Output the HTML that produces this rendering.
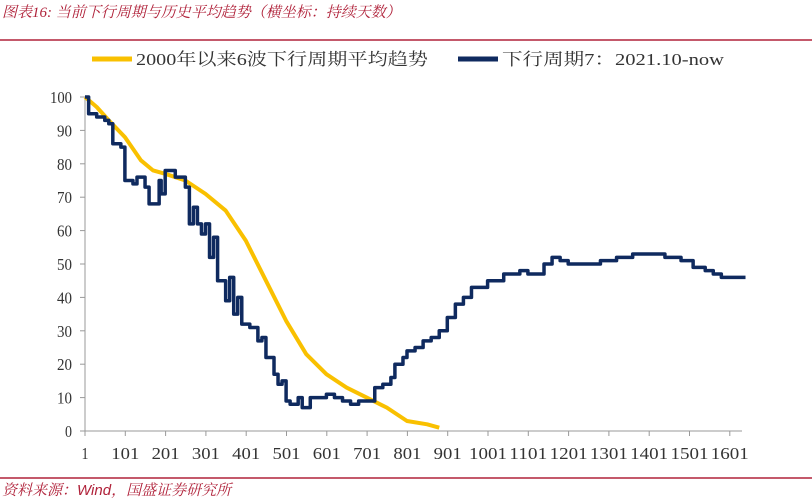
<!DOCTYPE html>
<html><head><meta charset="utf-8"><style>
body{margin:0;background:#fff;width:812px;height:500px;overflow:hidden}
svg{display:block}
.t{font-family:"Liberation Serif","Noto Serif CJK SC",serif;font-size:17px;fill:#333}
</style></head><body>
<svg id="s" width="812" height="500" xmlns="http://www.w3.org/2000/svg">
<text x="2" y="17" font-family="Liberation Serif,'Noto Serif CJK SC',serif" font-size="15" font-style="italic" fill="#b0223a">图表16:  当前下行周期与历史平均趋势（横坐标：持续天数）</text>
<line x1="0" y1="40" x2="812" y2="40" stroke="#b0223a" stroke-width="1.5"/>
<line x1="92" y1="59" x2="132" y2="59" stroke="#f9c000" stroke-width="5"/>
<text class="t" x="136" y="65" font-size="17" textLength="292" lengthAdjust="spacingAndGlyphs">2000年以来6波下行周期平均趋势</text>
<line x1="458" y1="59" x2="498" y2="59" stroke="#0f2a5f" stroke-width="5"/>
<text class="t" x="502" y="65" font-size="17" textLength="222" lengthAdjust="spacingAndGlyphs">下行周期7：2021.10-now</text>
<line x1="85" y1="97" x2="85" y2="431" stroke="#999"/>
<line x1="85" y1="431" x2="742" y2="431" stroke="#999"/>
<g id="ax"></g>
<polyline id="y" fill="none" stroke="#f9c000" stroke-width="4" stroke-linejoin="round"/>
<polyline id="b" fill="none" stroke="#0f2a5f" stroke-width="3.5" stroke-linejoin="round"/>
<line x1="0" y1="478" x2="812" y2="478" stroke="#b0223a" stroke-width="1.5"/>
<text x="2" y="495" font-family="Liberation Serif,'Noto Serif CJK SC',serif" font-size="15" font-style="italic" fill="#b0223a">资料来源：<tspan font-family="Liberation Sans,sans-serif">Wind</tspan>，国盛证券研究所</text>
</svg>
<script>
var X=d=>85+(d-1)*0.403, Y=v=>431-v*3.34;
var ax=document.getElementById('ax'),h='';
for(var i=0;i<=10;i++){var y=Y(i*10);h+='<line x1="80" y1="'+y+'" x2="85" y2="'+y+'" stroke="#999"/><text class="t" x="72" y="'+(y+6)+'" text-anchor="end" textLength="'+(i==10?22:(i==0?7:15))+'" lengthAdjust="spacingAndGlyphs">'+(i*10)+'</text>';}
for(var i=0;i<=16;i++){var x=X(1+i*100);h+='<line x1="'+x+'" y1="431" x2="'+x+'" y2="436" stroke="#999"/><text class="t" x="'+x+'" y="459" text-anchor="middle" textLength="'+(i>=10?38:(i==0?7:28))+'" lengthAdjust="spacingAndGlyphs">'+(1+i*100)+'</text>';}
ax.innerHTML=h;
var yd=[1,100,30,97,60,93,100,88,140,81,170,78,200,77,250,75,300,71,350,66,400,57,450,45,500,33,550,23,600,17,650,13,700,10,750,7,800,3,850,2,880,1];
var bd=[1,100,10,95,30,94,50,93,60,92,70,86,90,85,100,75,120,74,130,76,150,73,160,68,180,68,185,75,190,71,200,78,220,78,225,76,250,73,260,62,270,67,280,62,290,59,300,62,310,52,320,58,330,45,350,39,360,46,370,35,380,40,390,32,410,31,430,27,440,28,450,22,470,17,480,14,490,15,500,9,510,8,530,10,540,7,560,10,580,10,600,11,620,10,640,9,660,8,680,9,700,9,720,13,740,14,760,16,770,20,790,22,800,24,820,25,840,27,860,28,880,30,900,34,920,38,940,40,960,43,1000,45,1040,47,1080,48,1100,47,1140,50,1160,52,1180,51,1200,50,1240,50,1280,51,1320,52,1360,53,1400,53,1440,52,1480,51,1510,49,1540,48,1560,47,1580,46,1620,46,1640,46];
function pts(a,step){var s=[];for(var i=0;i<a.length;i+=2){if(step&&i>0)s.push(X(a[i])+','+Y(a[i-1]));s.push(X(a[i])+','+Y(a[i+1]));}return s.join(' ');}
document.getElementById('y').setAttribute('points',pts(yd,false));
document.getElementById('b').setAttribute('points',pts(bd,true));
</script>
</body></html>
